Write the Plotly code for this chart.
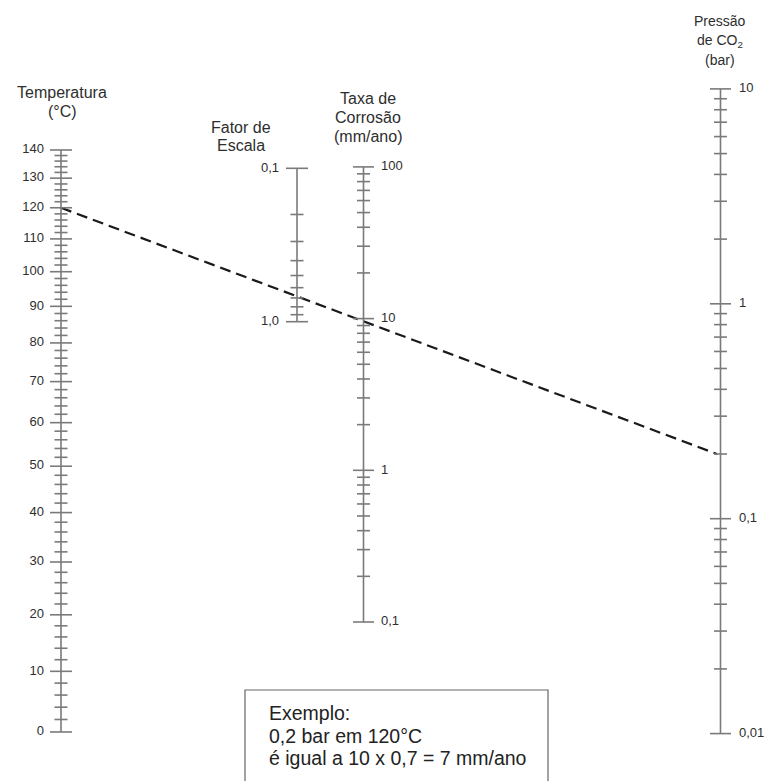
import math
import plotly.graph_objects as go

# ---------------- data ----------------
TEMP_MAJOR = [0, 10, 20, 30, 40, 50, 60, 70, 80, 90, 100, 110, 120, 130, 140]
TEMP_MINOR = [t for t in range(0, 141, 2) if t % 10 != 0]
TEMP_LABELS = [str(t) for t in TEMP_MAJOR]

FATOR_MAJOR = [0.1, 1.0]
FATOR_MINOR = [0.2, 0.3, 0.4, 0.5, 0.6, 0.7, 0.8, 0.9]
FATOR_LABELS = ["0,1", "1,0"]

RATE_MAJOR = [0.1, 1, 10, 100]
RATE_MINOR = [0.2, 0.3, 0.4, 0.5, 0.6, 0.7, 0.8, 0.9,
              2, 3, 4, 5, 6, 7, 8, 9,
              20, 30, 40, 50, 60, 70, 80, 90]
RATE_LABELS = ["0,1", "1", "10", "100"]

PRESS_MAJOR = [0.01, 0.1, 1, 10]
PRESS_MINOR = [0.02, 0.03, 0.04, 0.05, 0.06, 0.07, 0.08, 0.09,
               0.2, 0.3, 0.4, 0.5, 0.6, 0.7, 0.8, 0.9,
               2, 3, 4, 5, 6, 7, 8, 9]
PRESS_LABELS = ["0,01", "0,1", "1", "10"]

EXAMPLE_TEMP = 120      # °C
EXAMPLE_PRESS = 0.2     # bar
EXAMPLE_LINES = ["Exemplo:", "0,2 bar em 120°C", "é igual a 10 x 0,7 = 7 mm/ano"]

# ---------------- layout constants ----------------
W, H = 766, 781
FONT = "Liberation Sans, Arial, sans-serif"
AX_COLOR = "#7a7a7a"
TXT = "#2e2e2e"


def recip(t):
    return 1.0 / (t + 273.15)

# axis ranges (bottom value, top value) in the axis' own units
R_TEMP = [0.0037655, 0.0021007]          # linear in 1/T (K^-1), reversed
R_FATOR = [2.9941, -2.0971]              # log10, reversed
R_RATE = [-2.0481, 3.1002]               # log10
R_PRESS = [-2.2206, 1.4137]              # log10


def to_px(v, rng, log=False):
    vv = math.log10(v) if log else v
    return H - (vv - rng[0]) / (rng[1] - rng[0]) * H

fig = go.Figure()


def scale(axis, x, vmin, vmax, major, minor, labels, maj_w, min_w, lab_x, lab_side):
    fig.add_trace(go.Scatter(x=[x, x], y=[vmin, vmax], mode="lines", yaxis=axis,
                             line=dict(color=AX_COLOR, width=1.6), hoverinfo="skip"))
    xs, ys = [], []
    for v in major:
        xs += [x - maj_w, x + maj_w, None]
        ys += [v, v, None]
    for v in minor:
        xs += [x - min_w, x + min_w, None]
        ys += [v, v, None]
    fig.add_trace(go.Scatter(x=xs, y=ys, mode="lines", yaxis=axis,
                             line=dict(color=AX_COLOR, width=1.6), hoverinfo="skip",
                             connectgaps=False))
    fig.add_trace(go.Scatter(x=[lab_x] * len(major), y=major, mode="text", yaxis=axis,
                             text=labels, textposition="middle " + lab_side,
                             textfont=dict(family=FONT, size=13, color=TXT), hoverinfo="skip"))

# Temperatura
scale("y2", 61, recip(0), recip(140), [recip(t) for t in TEMP_MAJOR],
      [recip(t) for t in TEMP_MINOR], TEMP_LABELS, 11, 6.5, 44, "left")
# Fator de Escala
scale("y3", 297, 0.1, 1.0, FATOR_MAJOR, FATOR_MINOR, FATOR_LABELS, 11, 6.5, 279, "left")
# Taxa de Corrosão
scale("y4", 363.5, 0.1, 100, RATE_MAJOR, RATE_MINOR, RATE_LABELS, 10.5, 6.5, 381, "right")
# Pressão de CO2
scale("y5", 720.5, 0.01, 10, PRESS_MAJOR, PRESS_MINOR, PRESS_LABELS, 10.5, 6.5, 739, "right")

# example dashed line (from temperature axis to pressure axis)
y_start = to_px(recip(EXAMPLE_TEMP), R_TEMP)
y_end = to_px(EXAMPLE_PRESS, R_PRESS, log=True)
fig.add_trace(go.Scatter(x=[61, 717], y=[y_start, y_end], mode="lines", yaxis="y",
                         line=dict(color="#1a1a1a", width=2.2, dash="11px,6px"),
                         hoverinfo="skip"))

annotations = []


def title(lines, x, ys, size):
    for txt, yy in zip(lines, ys):
        annotations.append(dict(x=x, y=yy, xref="x", yref="y", text=txt, showarrow=False,
                                xanchor="center", yanchor="middle",
                                font=dict(family=FONT, size=size, color=TXT)))

title(["Temperatura", "(°C)"], 62, [92, 111.5], 16)
title(["Fator de", "Escala"], 241, [127, 145.5], 16)
title(["Taxa de", "Corrosão", "(mm/ano)"], 368, [98, 117, 136.5], 16)
title(["Pressão", "de CO<sub>2</sub>", "(bar)"], 720, [21, 40.5, 60], 14)

for txt, yy in zip(EXAMPLE_LINES, [713, 735.5, 758]):
    annotations.append(dict(x=267, y=yy, xref="x", yref="y", text=txt, showarrow=False,
                            xanchor="left", yanchor="middle",
                            font=dict(family=FONT, size=19.5, color="#222222")))

shapes = [dict(type="rect", xref="x", yref="y", x0=245, x1=548, y0=690, y1=800,
               line=dict(color="#666666", width=1.2), fillcolor="rgba(0,0,0,0)", layer="below")]

hidden = dict(visible=False, showgrid=False, zeroline=False)
fig.update_layout(
    width=W, height=H, autosize=False,
    margin=dict(l=0, r=0, t=0, b=0, pad=0),
    paper_bgcolor="white", plot_bgcolor="white",
    showlegend=False,
    xaxis=dict(range=[0, W], domain=[0, 1], fixedrange=True, **hidden),
    yaxis=dict(range=[H, 0], domain=[0, 1], fixedrange=True, **hidden),
    yaxis2=dict(range=R_TEMP, overlaying="y", fixedrange=True, **hidden),
    yaxis3=dict(range=R_FATOR, type="log", overlaying="y", fixedrange=True, **hidden),
    yaxis4=dict(range=R_RATE, type="log", overlaying="y", fixedrange=True, **hidden),
    yaxis5=dict(range=R_PRESS, type="log", overlaying="y", fixedrange=True, **hidden),
    annotations=annotations,
    shapes=shapes,
)

fig.write_html("out.html", config={"displayModeBar": False},
               post_script="document.body.style.margin='0';document.body.style.overflow='hidden';")
